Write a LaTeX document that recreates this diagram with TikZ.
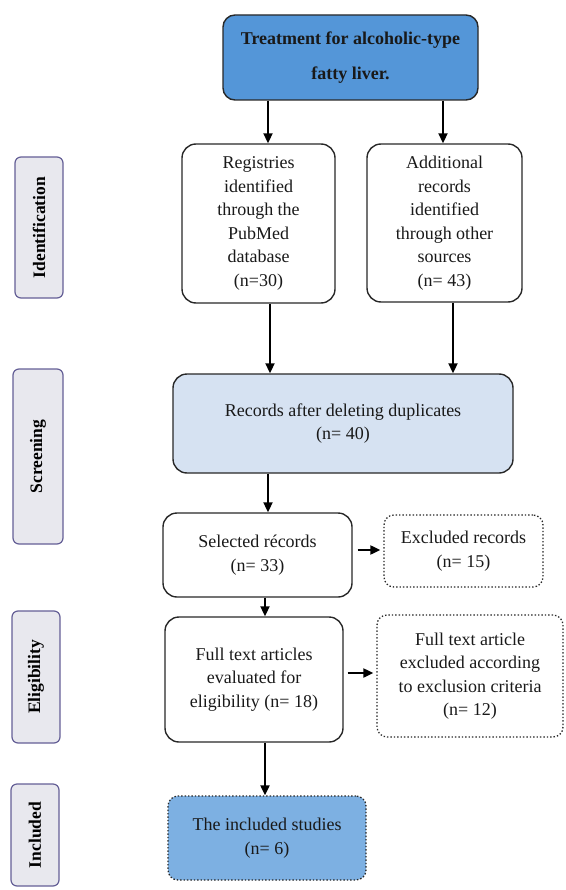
\documentclass[tikz,border=0pt]{standalone}
\usepackage{fontspec}
\setmainfont{Liberation Serif}
\usetikzlibrary{arrows.meta}
\definecolor{topblue}{RGB}{84,150,216}
\definecolor{screenblue}{RGB}{214,226,242}
\definecolor{inclblue}{RGB}{125,176,226}
\definecolor{labfill}{RGB}{232,232,238}
\definecolor{labdraw}{RGB}{100,95,150}
\definecolor{boxdraw}{RGB}{40,40,40}
\tikzset{
  bx/.style={draw=boxdraw, line width=1.4pt, rounded corners=14pt, align=center, inner sep=0pt,
    font=\fontsize{18}{23.5}\selectfont, text=black!90},
  dbx/.style={bx, dotted, line width=1.3pt, rounded corners=10pt},
  lab/.style={draw=labdraw, fill=labfill, line width=1.2pt, rounded corners=6pt, rotate=90,
    font=\fontsize{17.5}{18}\selectfont\bfseries, inner sep=0pt},
  arr/.style={line width=2pt, -{Triangle[length=10pt,width=9pt]}},
}
\begin{document}
\begin{tikzpicture}[x=1pt,y=-1pt]
\useasboundingbox (0,0) rectangle (565,890);
% main boxes
\node[bx, fill=topblue, minimum width=255pt, minimum height=85pt,
  font=\fontsize{18}{35}\selectfont\bfseries, rounded corners=12pt] (top) at (350.5,57.5)
  {Treatment for alcoholic-type\\fatty liver.};
\node[bx, minimum width=153pt, minimum height=159pt] (reg) at (258.5,223.5)
  {Registries\\identified\\through the\\PubMed\\database\\(n=30)};
\node[bx, minimum width=155pt, minimum height=158pt] (add) at (444.5,223)
  {Additional\\records\\identified\\through other\\sources\\(n= 43)};
\node[bx, fill=screenblue, minimum width=340pt, minimum height=99pt] (scr) at (343,423.5)
  {Records after deleting duplicates\\(n= 40)};
\node[bx, minimum width=189pt, minimum height=84pt] (sel) at (257.5,555)
  {Selected récords\\(n= 33)};
\node[dbx, minimum width=159pt, minimum height=72pt] (ex1) at (463.5,551)
  {Excluded records\\(n= 15)};
\node[bx, minimum width=178pt, minimum height=125pt] (full) at (254,679.5)
  {Full text articles\\evaluated for\\eligibility (n= 18)};
\node[dbx, minimum width=186pt, minimum height=122pt] (ex2) at (470,676)
  {Full text article\\excluded according\\to exclusion criteria\\(n= 12)};
\node[dbx, fill=inclblue, minimum width=198pt, minimum height=84pt] (inc) at (267,838)
  {The included studies\\(n= 6)};
% side labels
\node[lab, minimum width=141pt, minimum height=48pt] (lid) at (39,227.5) {Identification};
\node[lab, minimum width=175pt, minimum height=50pt] (lsc) at (38,456.5) {Screening};
\node[lab, minimum width=132pt, minimum height=48pt] (lel) at (36,677) {Eligibility};
\node[lab, minimum width=102pt, minimum height=48pt] (lin) at (35,835) {Included};
% arrow columns
\coordinate (c1) at (268,0);
\coordinate (c2) at (443,0);
\coordinate (c3) at (270,0);
\coordinate (c4) at (453,0);
\coordinate (c5) at (268,0);
\coordinate (c6) at (265,0);
\draw[arr] (top.south -| c1) -- (reg.north -| c1);
\draw[arr] (top.south -| c2) -- (add.north -| c2);
\draw[arr] (reg.south -| c3) -- (scr.north -| c3);
\draw[arr] (add.south -| c4) -- (scr.north -| c4);
\draw[arr] (scr.south -| c5) -- (sel.north -| c5);
\draw[arr] (sel.south -| c6) -- (full.north -| c6);
\draw[arr] (full.south -| c6) -- (inc.north -| c6);
\draw[arr, shorten <=5pt, shorten >=3pt] (sel.east |- 0,550) -- (ex1.west |- 0,550);
\draw[arr, shorten <=4pt, shorten >=3pt] (full.east |- 0,673) -- (ex2.west |- 0,673);
\end{tikzpicture}
\end{document}
